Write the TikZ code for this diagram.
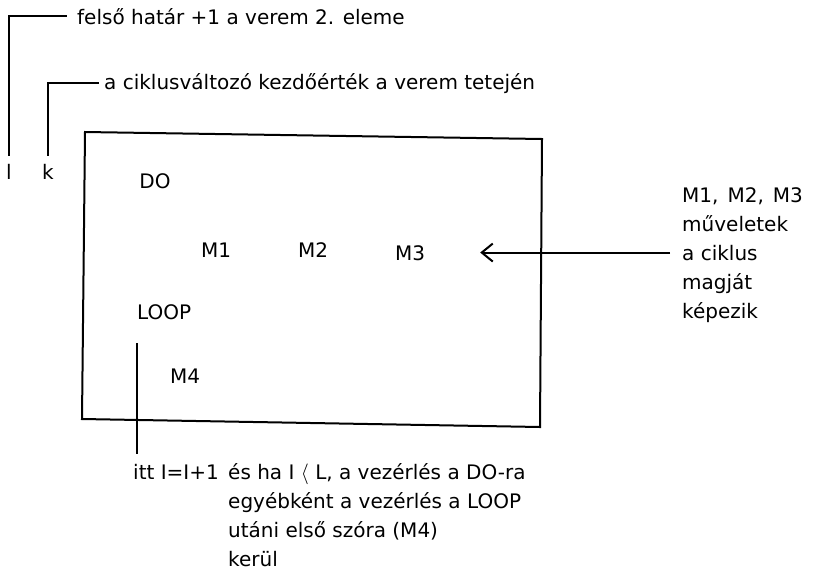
\documentclass[tikz,border=0pt]{standalone}
\usepackage{fontspec}
\setmainfont{DejaVu Sans}
\usetikzlibrary{arrows.meta}
\begin{document}
\begin{tikzpicture}[x=1pt,y=-1pt,
  font=\fontsize{20}{24}\selectfont,
  txt/.style={inner sep=0pt, anchor=base west},
  word/.style={inner sep=0pt, anchor=base},
  ln/.style={line width=2pt, line cap=butt}]
\useasboundingbox (0,0) rectangle (819,582);

% stack labels and their explanations
\node[txt] (felso) at (77,24) {felső határ +1 a verem 2. eleme};
\node[txt] (kezdo) at (104,89) {a ciklusváltozó kezdőérték a verem tetején};
\node[word] (lv) at (9,179) {l};
\node[word] (kv) at (48,179) {k};
\draw[ln] ([yshift=8pt]lv.north) -- (lv.north |- felso.west) -- ([xshift=-10pt]felso.west);
\draw[ln] ([yshift=8pt]kv.north) -- (kv.north |- kezdo.west) -- ([xshift=-5pt]kezdo.west);

% the program frame
\draw[ln, line join=miter] (85,132) -- (542,139) -- (540,427) -- (82,419) -- cycle;
\node[word] (do) at (155,188) {DO};
\node[word] (m1) at (216,257) {M1};
\node[word] (m2) at (313,257) {M2};
\node[word] (m3) at (410,260) {M3};
\node[txt] (loop) at (137,319) {LOOP};
\node[word] (m4) at (185,383) {M4};

% loop body explanation
\node[txt] (r1) at (682,202) {M1,\hspace{0.45em}M2,\hspace{0.45em}M3};
\node[txt] (r2) at (682,231) {műveletek};
\node[txt] (r3) at (682,260) {a ciklus};
\node[txt] (r4) at (682,289) {magját};
\node[txt] (r5) at (682,318) {képezik};
\draw[ln, -{Straight Barb[length=11pt,width=18pt,line width=2pt]}]
  ([xshift=-12pt]r3.west) -- ([xshift=55pt]m3.east |- r3.west);

% what happens at LOOP
\node[txt] (itt) at (133,479) {itt I=I+1};
\node[txt] (b1) at (228,479) {és ha I $\langle$ L, a vezérlés a DO-ra};
\node[txt] (b2) at (228,508) {egyébként a vezérlés a LOOP};
\node[txt] (b3) at (228,537) {utáni első szóra (M4)};
\node[txt] (b4) at (228,566) {kerül};
\draw[ln] ([yshift=-24pt]loop.south west) -- ([yshift=10pt]loop.south west |- itt.north);
\end{tikzpicture}
\end{document}
